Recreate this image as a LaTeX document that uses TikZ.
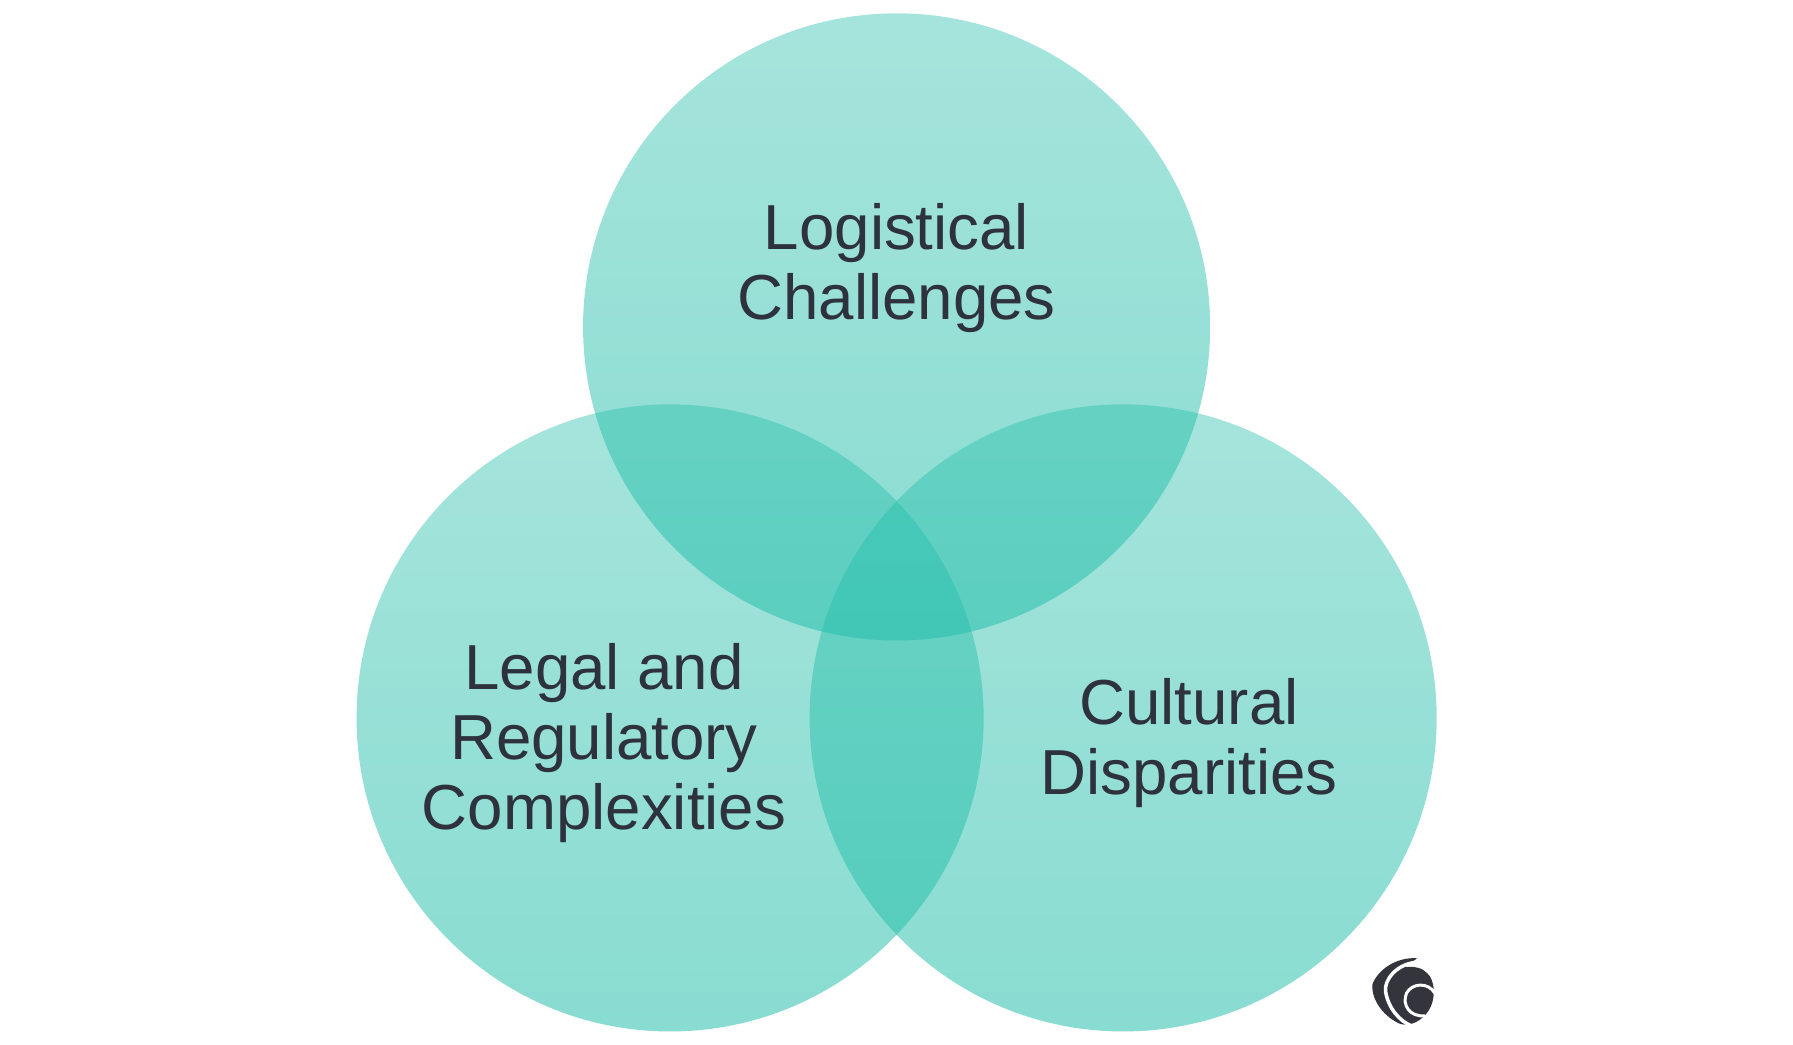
\documentclass[tikz,border=0pt]{standalone}
\usepackage{fontspec}
\setmainfont{Liberation Sans}
\usepackage{tikz}
\usetikzlibrary{fadings}
\definecolor{vennteal}{RGB}{36,190,170}
\definecolor{inkdark}{RGB}{45,50,60}
\definecolor{logodark}{RGB}{51,52,60}
\tikzfading[name=vennfade, top color=transparent!59, bottom color=transparent!46]
\tikzset{
    venn/.style={
    circle,fill=vennteal,path fading=vennfade,minimum size=6.27cm,inner sep=0pt
    },
    vennlabel/.style={
    align=center,text=inkdark,font=\fontsize{18.1}{20}\selectfont,inner sep=0pt
    },
}
\begin{document}
\begin{tikzpicture}
   \useasboundingbox (0,0) rectangle (17.93,10.44);
   \node[venn] (top) at (8.965,7.17) {};
   \node[venn] (left) at (6.70,3.26) {};
   \node[venn] (right) at (11.23,3.26) {};

   \node[vennlabel] (logistical) at (8.965,7.76) {Logistical\\Challenges};
   \node[vennlabel] (legal) at (6.04,3.01) {Legal and\\Regulatory\\Complexities};
   \node[vennlabel] (cultural) at (11.89,3.01) {Cultural\\Disparities};

   % the little mark, bottom right
   \begin{scope}[shift={(13.40,1.14)},x=0.0033333cm,y=-0.0033333cm]
     \fill[logodark] (232,85) .. controls (170,80) and (112,120) .. (97,165)
        .. controls (95,215) and (135,262) .. (180,282)
        .. controls (225,295) and (262,255) .. (272,232)
        .. controls (288,200) and (285,150) .. (262,130)
        .. controls (250,115) and (225,108) .. (195,112)
        .. controls (210,100) and (222,92) .. (232,85) -- cycle;
     \draw[white,line width=0.35mm] (228,97) .. controls (170,103) and (132,150) .. (137,185)
        .. controls (145,235) and (180,275) .. (215,288);
     \draw[white,line width=0.3mm] (285,190) .. controls (265,155) and (215,160) .. (200,190)
        .. controls (185,225) and (210,262) .. (255,258);
   \end{scope}
\end{tikzpicture}
\end{document}
